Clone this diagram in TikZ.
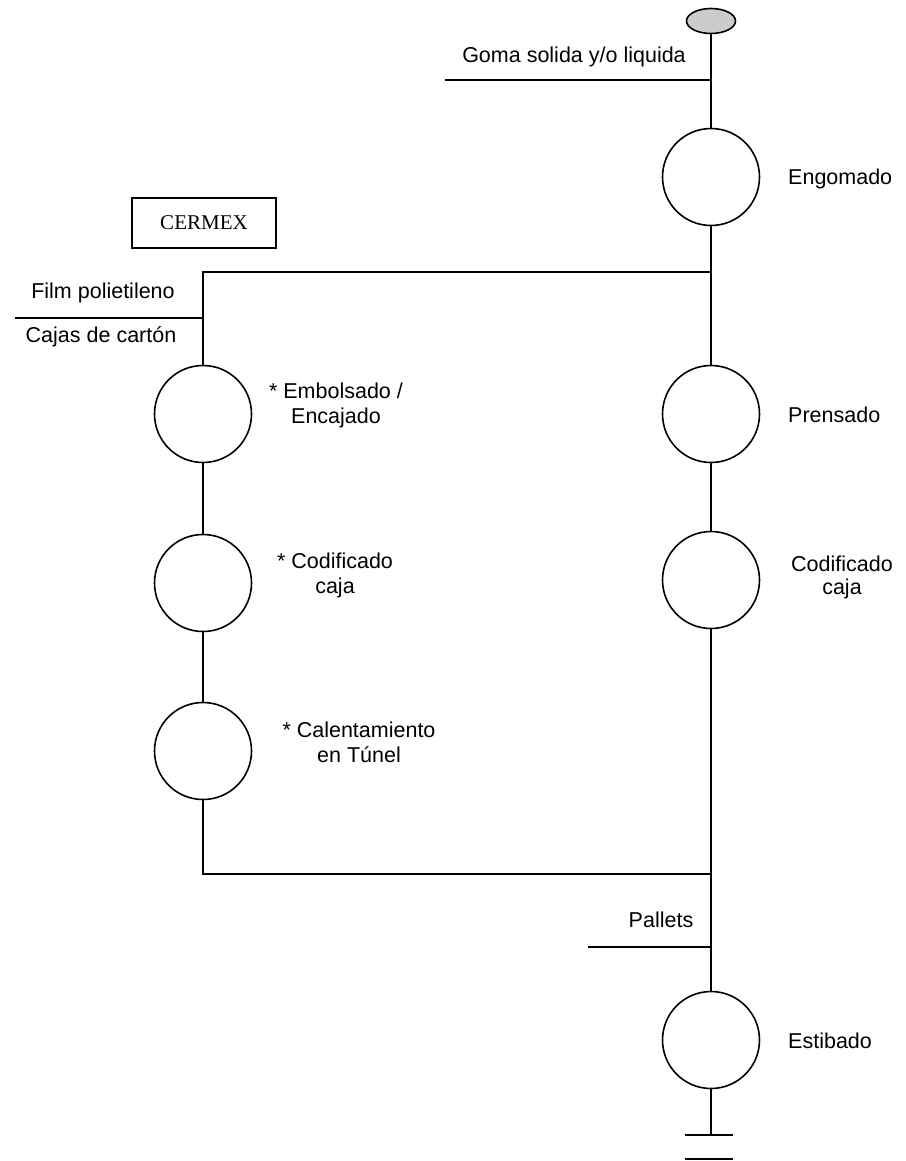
\documentclass[tikz,border=0pt]{standalone}
\usepackage{fontspec}
\setmainfont{Liberation Sans}
\newfontfamily\boxfont{Liberation Serif}
\usetikzlibrary{shapes.geometric}

\begin{document}
\begin{tikzpicture}[x=1pt,y=-1pt,
  stage/.style={circle,draw,line width=1.6pt,minimum size=97pt,inner sep=0pt},
  lbl/.style={font=\fontsize{21.5}{25}\selectfont,align=center,inner sep=0pt},
  conn/.style={line width=1.6pt}]
\useasboundingbox (0,0) rectangle (905,1161);

% feed source and process stages
\node[ellipse,draw,line width=1.6pt,fill=gray!40,minimum width=49pt,minimum height=25pt,inner sep=0pt] (src) at (711,21) {};
\node[stage] (eng)  at (711,177) {};
\node[stage] (pre)  at (711,414) {};
\node[stage] (codR) at (711,580) {};
\node[stage] (est)  at (711,1040) {};
\node[stage] (emb)  at (203,414) {};
\node[stage] (codL) at (203,583) {};
\node[stage] (cal)  at (203,751) {};

% branch points and material inputs
\coordinate (gomaIn) at (445,80);   \coordinate (gomaJ) at (711,80);
\coordinate (splitR) at (711,272);  \coordinate (splitL) at (203,272);
\coordinate (filmIn) at (15,318);   \coordinate (filmJ) at (203,318);
\coordinate (joinR) at (711,874);
\coordinate (palIn) at (588,947);   \coordinate (palJ) at (711,947);
\coordinate (gnd) at (711,1135);
\coordinate (g1a) at (685,1135);    \coordinate (g1b) at (733,1135);
\coordinate (g2a) at (685,1159);    \coordinate (g2b) at (733,1159);

% main line
\draw[conn] (src.south) -- (eng.north);
\draw[conn] (gomaIn) -- (gomaJ);
\draw[conn] (eng.south) -- (pre.north);
\draw[conn] (pre.south) -- (codR.north);
\draw[conn] (codR.south) -- (est.north);
\draw[conn] (est.south) -- (gnd);
\draw[conn] (g1a) -- (g1b);
\draw[conn] (g2a) -- (g2b);
\draw[conn] (palIn) -- (palJ);

% CERMEX branch
\draw[conn] (splitR) -- (splitL) -- (emb.north);
\draw[conn] (filmIn) -- (filmJ);
\draw[conn] (emb.south) -- (codL.north);
\draw[conn] (codL.south) -- (cal.north);
\draw[conn] (cal.south) |- (joinR);

% labels (two-line labels are anchored on their last baseline)
\node[lbl,anchor=base] (tgoma) at (574,63) {Goma solida y/o liquida};
\node[draw,line width=1.3pt,minimum width=144pt,minimum height=50pt,inner sep=0pt,
      font=\boxfont\fontsize{21}{25}\selectfont] (cermex) at (204,223) {CERMEX};
\node[lbl,anchor=base] (tfilm) at (103,298) {Film polietileno};
\node[lbl,anchor=base] (tcaja) at (101,342) {Cajas de cartón};
\node[lbl,anchor=base] (tpal) at (661,927) {Pallets};

\node[lbl,anchor=base west] (teng) at (788,185) {Engomado};
\node[lbl,anchor=base west] (tpre) at (788,422) {Prensado};
\node[lbl,anchor=base,font=\fontsize{21.5}{23}\selectfont] (tcodR) at (842,594) {Codificado\\caja};
\node[lbl,anchor=base west] (test) at (788,1048) {Estibado};

\node[lbl,anchor=base] (temb) at (336,423) {* Embolsado /\\Encajado};
\node[lbl,anchor=base] (tcodL) at (335,593) {* Codificado\\caja};
\node[lbl,anchor=base] (tcal) at (359,762) {* Calentamiento\\en Túnel};
\end{tikzpicture}
\end{document}
